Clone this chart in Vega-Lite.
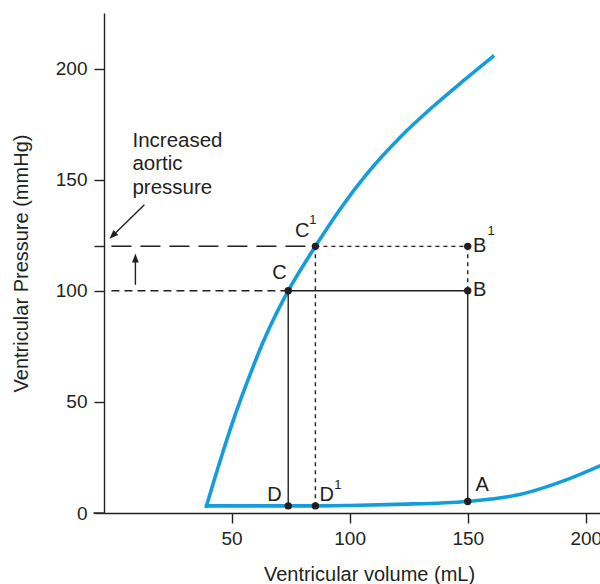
{
  "$schema": "https://vega.github.io/schema/vega-lite/v6.json",
  "autosize": {"type": "none"},
  "padding": {"left": 104, "top": 13, "right": 0, "bottom": 71},
  "width": 496,
  "height": 500,
  "background": "white",
  "config": {
    "view": {"stroke": null},
    "font": "Liberation Sans",
    "axis": {
      "grid": false,
      "domainColor": "#231f20",
      "domainWidth": 1.4,
      "tickColor": "#231f20",
      "tickWidth": 1.4,
      "tickSize": 10,
      "labelColor": "#231f20",
      "labelFontSize": 19,
      "labelFont": "Liberation Sans",
      "titleColor": "#231f20",
      "titleFont": "Liberation Sans",
      "titleFontSize": 20,
      "titleFontWeight": "normal"
    }
  },
  "datasets": {
    "curve": [
      {"part": "systolic", "v": 39.4, "p": 3.2},
      {"part": "systolic", "v": 42.8, "p": 15.3},
      {"part": "systolic", "v": 46.2, "p": 27.0},
      {"part": "systolic", "v": 50.4, "p": 40.7},
      {"part": "systolic", "v": 56.4, "p": 58.3},
      {"part": "systolic", "v": 63.1, "p": 76.3},
      {"part": "systolic", "v": 69.1, "p": 90.1},
      {"part": "systolic", "v": 74.0, "p": 100.0},
      {"part": "systolic", "v": 85.5, "p": 120.0},
      {"part": "systolic", "v": 95.8, "p": 136.5},
      {"part": "systolic", "v": 107.2, "p": 152.5},
      {"part": "systolic", "v": 121.2, "p": 168.9},
      {"part": "systolic", "v": 135.2, "p": 182.8},
      {"part": "systolic", "v": 148.7, "p": 195.0},
      {"part": "systolic", "v": 160.6, "p": 205.4},
      {"part": "diastolic", "v": 39.4, "p": 3.2},
      {"part": "diastolic", "v": 55.0, "p": 3.2},
      {"part": "diastolic", "v": 74.0, "p": 3.2},
      {"part": "diastolic", "v": 85.5, "p": 3.2},
      {"part": "diastolic", "v": 100.0, "p": 3.4},
      {"part": "diastolic", "v": 120.0, "p": 3.9},
      {"part": "diastolic", "v": 150.0, "p": 5.2},
      {"part": "diastolic", "v": 160.0, "p": 6.3},
      {"part": "diastolic", "v": 172.0, "p": 8.3},
      {"part": "diastolic", "v": 182.0, "p": 11.3},
      {"part": "diastolic", "v": 192.0, "p": 15.0},
      {"part": "diastolic", "v": 206.0, "p": 21.2}
    ],
    "segs": [
      {"kind": "solid", "v": 74, "p": 100, "v2": 150, "p2": 100},
      {"kind": "solid", "v": 74, "p": 100, "v2": 74, "p2": 3.2},
      {"kind": "solid", "v": 150, "p": 100, "v2": 150, "p2": 5.2},
      {"kind": "solid", "v": 9.3, "p": 102.7, "v2": 9.3, "p2": 114.7},
      {"kind": "solid", "v": 13.1, "p": 138.7, "v2": -0.34, "p2": 124.8},
      {"kind": "solid", "v": -8.5, "p": 0, "v2": -4, "p2": 0},
      {"kind": "dotted", "v": 85.5, "p": 120, "v2": 150, "p2": 120},
      {"kind": "dotted", "v": 150, "p": 120, "v2": 150, "p2": 100},
      {"kind": "dotted", "v": 85.5, "p": 120, "v2": 85.5, "p2": 3.2},
      {"kind": "long", "v": -0.85, "p": 120, "v2": 85.5, "p2": 120},
      {"kind": "short", "v": -0.85, "p": 100, "v2": 74, "p2": 100}
    ],
    "heads": [
      {"dir": "up", "v": 9.3, "p": 114.7},
      {"dir": "downleft", "v": -0.34, "p": 124.8}
    ],
    "dots": [
      {"name": "C", "v": 74, "p": 100},
      {"name": "C1", "v": 85.5, "p": 120},
      {"name": "B", "v": 150, "p": 100},
      {"name": "B1", "v": 150, "p": 120},
      {"name": "D", "v": 74, "p": 3.2},
      {"name": "D1", "v": 85.5, "p": 3.2},
      {"name": "A", "v": 150, "p": 5.2}
    ],
    "labels": [
      {"text": "C", "v": 70.3, "p": 107.9},
      {"text": "C", "v": 79.9, "p": 126.8},
      {"text": "B", "v": 155.1, "p": 100.5},
      {"text": "B", "v": 155.1, "p": 120.3},
      {"text": "D", "v": 68.2, "p": 8.1},
      {"text": "D", "v": 90.3, "p": 8.1},
      {"text": "A", "v": 156.1, "p": 12.4}
    ],
    "sups": [
      {"text": "1", "v": 84.4, "p": 132.0},
      {"text": "1", "v": 159.9, "p": 126.8},
      {"text": "1", "v": 95.0, "p": 12.4}
    ],
    "note": [
      {"text": "Increased", "v": 8.05, "p": 164.9},
      {"text": "aortic", "v": 8.05, "p": 154.2},
      {"text": "pressure", "v": 8.05, "p": 143.7}
    ]
  },
  "layer": [
    {
      "data": {"name": "curve"},
      "mark": {"type": "line", "color": "#139ddc", "strokeWidth": 3.6, "interpolate": "monotone", "strokeCap": "square"},
      "encoding": {
        "x": {
          "field": "v", "type": "quantitative",
          "scale": {"domain": [-4, 206], "nice": false, "zero": false},
          "axis": {"values": [50, 100, 150, 200], "title": "Ventricular volume (mL)", "labelPadding": 6, "titlePadding": 16, "titleX": 265}
        },
        "y": {
          "field": "p", "type": "quantitative",
          "scale": {"domain": [0, 225], "nice": false, "zero": false},
          "axis": {"values": [0, 50, 100, 120, 150, 200], "labelExpr": "datum.value == 120 ? '' : datum.label", "title": "Ventricular Pressure (mmHg)", "labelPadding": 7, "titlePadding": 24}
        },
        "detail": {"field": "part", "type": "nominal"}
      }
    },
    {
      "data": {"name": "segs"},
      "transform": [{"filter": "datum.kind == 'solid'"}],
      "mark": {"type": "rule", "color": "#231f20", "strokeWidth": 1.4},
      "encoding": {
        "x": {"field": "v", "type": "quantitative"},
        "y": {"field": "p", "type": "quantitative"},
        "x2": {"field": "v2"},
        "y2": {"field": "p2"}
      }
    },
    {
      "data": {"name": "segs"},
      "transform": [{"filter": "datum.kind == 'dotted'"}],
      "mark": {"type": "rule", "color": "#231f20", "strokeWidth": 1.4, "strokeDash": [4, 4]},
      "encoding": {
        "x": {"field": "v", "type": "quantitative"},
        "y": {"field": "p", "type": "quantitative"},
        "x2": {"field": "v2"},
        "y2": {"field": "p2"}
      }
    },
    {
      "data": {"name": "segs"},
      "transform": [{"filter": "datum.kind == 'long'"}],
      "mark": {"type": "rule", "color": "#231f20", "strokeWidth": 1.5, "strokeDash": [20, 9]},
      "encoding": {
        "x": {"field": "v", "type": "quantitative"},
        "y": {"field": "p", "type": "quantitative"},
        "x2": {"field": "v2"},
        "y2": {"field": "p2"}
      }
    },
    {
      "data": {"name": "segs"},
      "transform": [{"filter": "datum.kind == 'short'"}],
      "mark": {"type": "rule", "color": "#231f20", "strokeWidth": 1.5, "strokeDash": [8, 5]},
      "encoding": {
        "x": {"field": "v", "type": "quantitative"},
        "y": {"field": "p", "type": "quantitative"},
        "x2": {"field": "v2"},
        "y2": {"field": "p2"}
      }
    },
    {
      "data": {"name": "heads"},
      "transform": [{"filter": "datum.dir == 'up'"}],
      "mark": {"type": "point", "shape": "M0,-1L0.75,1L-0.75,1Z", "filled": true, "color": "#231f20", "size": 81, "opacity": 1},
      "encoding": {
        "x": {"field": "v", "type": "quantitative"},
        "y": {"field": "p", "type": "quantitative"}
      }
    },
    {
      "data": {"name": "heads"},
      "transform": [{"filter": "datum.dir == 'downleft'"}],
      "mark": {"type": "point", "shape": "M0,-1L0.75,1L-0.75,1Z", "filled": true, "color": "#231f20", "size": 81, "angle": 226, "opacity": 1},
      "encoding": {
        "x": {"field": "v", "type": "quantitative"},
        "y": {"field": "p", "type": "quantitative"}
      }
    },
    {
      "data": {"name": "dots"},
      "mark": {"type": "point", "shape": "circle", "filled": true, "color": "#231f20", "size": 55, "opacity": 1},
      "encoding": {
        "x": {"field": "v", "type": "quantitative"},
        "y": {"field": "p", "type": "quantitative"}
      }
    },
    {
      "data": {"name": "labels"},
      "mark": {"type": "text", "font": "Liberation Sans", "fontSize": 20, "color": "#231f20", "align": "center", "baseline": "middle"},
      "encoding": {
        "x": {"field": "v", "type": "quantitative"},
        "y": {"field": "p", "type": "quantitative"},
        "text": {"field": "text"}
      }
    },
    {
      "data": {"name": "sups"},
      "mark": {"type": "text", "font": "Liberation Sans", "fontSize": 13, "color": "#231f20", "align": "center", "baseline": "middle"},
      "encoding": {
        "x": {"field": "v", "type": "quantitative"},
        "y": {"field": "p", "type": "quantitative"},
        "text": {"field": "text"}
      }
    },
    {
      "data": {"name": "note"},
      "mark": {"type": "text", "font": "Liberation Sans", "fontSize": 20.5, "color": "#231f20", "align": "left", "baseline": "alphabetic"},
      "encoding": {
        "x": {"field": "v", "type": "quantitative"},
        "y": {"field": "p", "type": "quantitative"},
        "text": {"field": "text"}
      }
    }
  ]
}
